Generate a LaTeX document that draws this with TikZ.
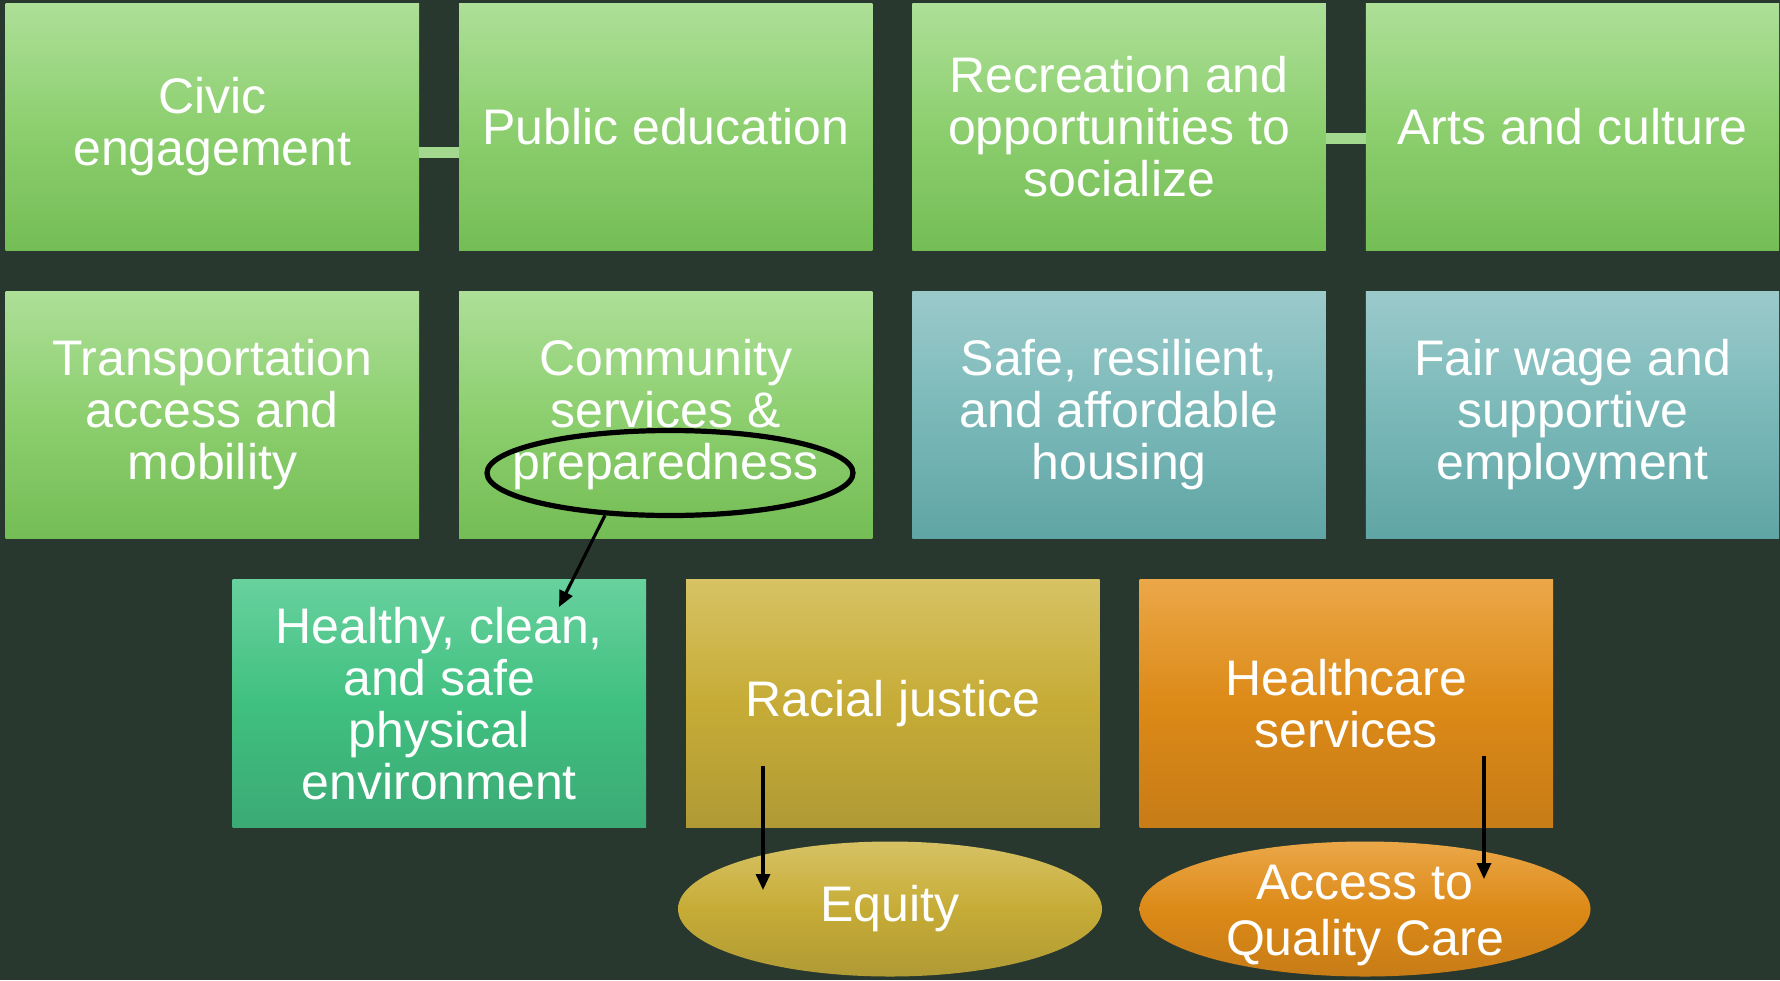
\documentclass[tikz,border=0pt]{standalone}
\usepackage{fontspec}
\setmainfont{Liberation Sans}
\usetikzlibrary{shapes.geometric,arrows.meta}
\definecolor{bg}{HTML}{29382F}
\definecolor{gtop}{HTML}{ADDF98}
\definecolor{gmid}{HTML}{8DCF6F}
\definecolor{gbot}{HTML}{74BD55}
\definecolor{ttop}{HTML}{9BCACB}
\definecolor{tmid}{HTML}{7AB8B8}
\definecolor{tbot}{HTML}{60A5A5}
\definecolor{htop}{HTML}{68D19E}
\definecolor{hmid}{HTML}{40C080}
\definecolor{hbot}{HTML}{3BAA75}
\definecolor{ytop}{HTML}{D7C264}
\definecolor{ymid}{HTML}{C6AC36}
\definecolor{ybot}{HTML}{B09A35}
\definecolor{otop}{HTML}{EBA748}
\definecolor{omid}{HTML}{DC8A17}
\definecolor{obot}{HTML}{C87C17}
\definecolor{barcol}{HTML}{A3D98E}
\begin{document}
\begin{tikzpicture}[x=0.5pt,y=-0.5pt,
  box/.style={rectangle, minimum width=206.7pt, minimum height=123.7pt,
    inner sep=0pt, outer sep=0pt, align=center, text=white,
    font=\fontsize{25pt}{26pt}\selectfont},
  greenbox/.style={box, top color=gtop, bottom color=gbot, middle color=gmid},
  tealbox/.style={box, top color=ttop, bottom color=tbot, middle color=tmid},
  envbox/.style={box, top color=htop, bottom color=hbot, middle color=hmid},
  yellowbox/.style={box, top color=ytop, bottom color=ybot, middle color=ymid},
  orangebox/.style={box, top color=otop, bottom color=obot, middle color=omid},
  oval/.style={ellipse, minimum height=67.5pt, inner sep=0pt, outer sep=0pt,
    text=white, font=\fontsize{25pt}{28pt}\selectfont},
  bar/.style={barcol, line width=5.5pt},
  conn/.style={-{Triangle[length=8pt,width=7pt]}, line width=1.6pt, black}
]
\fill[bg] (0,0) rectangle (1780,980);
\useasboundingbox (0,0) rectangle (1780,980);

% row 1
\node[greenbox] (civic) at (212.3,126.8) {Civic\\engagement};
\node[greenbox] (pubedu) at (665.7,126.8) {Public education};
\node[greenbox] (recr) at (1119.1,126.8) {Recreation and\\opportunities to\\socialize};
\node[greenbox] (arts) at (1572.5,126.8) {Arts and culture};

% row 2
\node[greenbox] (transp) at (212.3,415) {Transportation\\access and\\mobility};
\node[greenbox] (commsvc) at (665.7,415) {Community\\services \&\\preparedness};
\node[tealbox] (housing) at (1119.1,415) {Safe, resilient,\\and affordable\\housing};
\node[tealbox] (wage) at (1572.5,415) {Fair wage and\\supportive\\employment};

% row 3
\node[envbox] (healthy) at (439.3,703.5) {Healthy, clean,\\and safe\\physical\\environment};
\node[yellowbox] (racial) at (892.8,703.5) {Racial justice};
\node[orangebox] (healthcare) at (1346.3,703.5) {Healthcare\\services};

% ovals
\node[oval, minimum width=212pt, top color=ytop, bottom color=ybot, middle color=ymid] (equity) at (890,909) {\raisebox{-3pt}{Equity}};
\node[oval, minimum width=225.5pt, top color=otop, bottom color=obot, middle color=omid] (access) at (1365,909) {\raisebox{-9.75pt}[0pt][0pt]{\begin{tabular}{@{}c@{}}Access to\\Quality Care\end{tabular}}};

% highlight ellipse
\node[ellipse, draw=black, line width=2.6pt, minimum width=183pt, minimum height=42.5pt, inner sep=0pt] (prep) at (670,473) {};

% bars between boxes
\coordinate (bar1) at (439,152);
\coordinate (bar2) at (1346,138);
\draw[bar] (civic.east |- bar1) -- (pubedu.west |- bar1);
\draw[bar] (recr.east |- bar2) -- (arts.west |- bar2);

% arrows
\coordinate (prepend) at (559,607);
\draw[conn] (prep.-147) -- (prepend);
\coordinate (rjstart) at (763,766);
\coordinate (rjend) at (763,890);
\draw[conn] (rjstart) -- (rjend);
\coordinate (hcstart) at (1484,756);
\coordinate (hcend) at (1484,879);
\draw[conn] (hcstart) -- (hcend);
\end{tikzpicture}
\end{document}
